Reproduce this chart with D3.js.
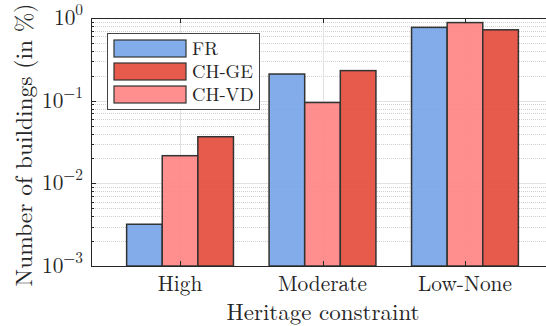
<!DOCTYPE html>
<html>
<head>
<meta charset="utf-8">
<script src="https://cdn.jsdelivr.net/npm/d3@7"></script>
<style>
  html, body { margin: 0; padding: 0; background: #fff; overflow: hidden; }
  svg { display: block; }
</style>
</head>
<body>
<svg id="chart" width="546" height="326"></svg>
<script>
// Share of buildings per heritage-constraint class and region
const categories = ["High", "Moderate", "Low-None"];
const seriesNames = ["FR", "CH-VD", "CH-GE"];        // bar order inside each group
const legendOrder = ["FR", "CH-GE", "CH-VD"];        // order shown in the legend
const valuesFR   = [0.0032, 0.210, 0.77];
const valuesCHVD = [0.0216, 0.095, 0.88];
const valuesCHGE = [0.0366, 0.231, 0.72];
const yTickValues = [1e-3, 1e-2, 1e-1, 1];
const yTickExponents = ["\u22123", "\u22122", "\u22121", "0"];

const seriesValues = { "FR": valuesFR, "CH-VD": valuesCHVD, "CH-GE": valuesCHGE };
const colors = { "FR": "#79a6e8", "CH-VD": "#ff8585", "CH-GE": "#e54f3f" };
const FONT = "'Latin Modern Roman', 'CMU Serif', 'Liberation Serif', serif";
const TEXT = "#262626";

const svg = d3.select("#chart").attr("font-family", FONT);
const m = { left: 91, top: 18, right: 554, bottom: 266 };

// font size that makes a sample string span a given width
function fitSize(sample, width) {
  const t = svg.append("text").attr("font-size", 20).text(sample);
  const w = t.node().getComputedTextLength();
  t.remove();
  return 20 * width / w;
}
const tickSize = fitSize("Moderate", 89);
const xTitleSize = fitSize("Heritage constraint", 193);
const yTitleSize = fitSize("Number of buildings (in %)", 283);
const legendSize = fitSize("CH-GE", 61);

// Group positions on an index axis (groups at 0,1,2 with 0.625 margin each side)
const x = d3.scaleLinear().domain([-0.625, categories.length - 0.375]).range([m.left, m.right]);
const y = d3.scaleLog().domain([1e-3, 1]).range([m.bottom, m.top]);
const barW = 0.25;

const plot = svg.append("g");

// minor grid (2..9 of each decade), dotted
const minor = [];
for (let e = -3; e < 0; e++) for (let k = 2; k <= 9; k++) minor.push(k * Math.pow(10, e));
plot.selectAll(".gminor").data(minor).enter().append("line")
  .attr("x1", m.left).attr("x2", m.right)
  .attr("y1", d => Math.round(y(d)) + 0.5).attr("y2", d => Math.round(y(d)) + 0.5)
  .attr("stroke", "#cfcfcf").attr("stroke-width", 1).attr("stroke-dasharray", "1,1");

// major grid
plot.selectAll(".gmajor").data(yTickValues).enter().append("line")
  .attr("x1", m.left).attr("x2", m.right)
  .attr("y1", d => Math.round(y(d)) + 0.5).attr("y2", d => Math.round(y(d)) + 0.5)
  .attr("stroke", "#e2e2e2").attr("stroke-width", 1);

// vertical grid at group centres
plot.selectAll(".gx").data(categories).enter().append("line")
  .attr("x1", (d, i) => Math.round(x(i)) + 0.5).attr("x2", (d, i) => Math.round(x(i)) + 0.5)
  .attr("y1", m.top).attr("y2", m.bottom)
  .attr("stroke", "#e2e2e2").attr("stroke-width", 1);

// bars
const bars = [];
categories.forEach((c, i) => {
  seriesNames.forEach((s, j) => {
    bars.push({ i, s, j, v: seriesValues[s][i] });
  });
});
plot.selectAll(".bar").data(bars).enter().append("rect")
  .attr("x", d => x(d.i + (d.j - 1.5) * barW))
  .attr("width", d => x(barW) - x(0))
  .attr("y", d => y(d.v))
  .attr("height", d => y(1e-3) - y(d.v))
  .attr("fill", d => colors[d.s])
  .attr("fill-opacity", 0.93)
  .attr("stroke", "#333")
  .attr("stroke-width", 1.5);

// axes frame (left, top, bottom)
const axisColor = "#262626";
svg.append("line").attr("x1", m.left + 0.5).attr("x2", m.left + 0.5)
  .attr("y1", m.top).attr("y2", m.bottom + 1).attr("stroke", axisColor).attr("stroke-width", 1);
svg.append("line").attr("x1", m.left).attr("x2", m.right)
  .attr("y1", m.top + 0.5).attr("y2", m.top + 0.5).attr("stroke", axisColor).attr("stroke-width", 1);
svg.append("line").attr("x1", m.left).attr("x2", m.right)
  .attr("y1", m.bottom + 0.5).attr("y2", m.bottom + 0.5).attr("stroke", axisColor).attr("stroke-width", 1);

// inward ticks on the left axis
svg.selectAll(".tmaj").data(yTickValues).enter().append("line")
  .attr("x1", m.left).attr("x2", m.left + 5)
  .attr("y1", d => Math.round(y(d)) + 0.5).attr("y2", d => Math.round(y(d)) + 0.5)
  .attr("stroke", axisColor);
svg.selectAll(".tmin").data(minor).enter().append("line")
  .attr("x1", m.left).attr("x2", m.left + 3)
  .attr("y1", d => Math.round(y(d)) + 0.5).attr("y2", d => Math.round(y(d)) + 0.5)
  .attr("stroke", axisColor);
// inward ticks on top and bottom at group centres
categories.forEach((c, i) => {
  const xx = Math.round(x(i)) + 0.5;
  svg.append("line").attr("x1", xx).attr("x2", xx).attr("y1", m.top).attr("y2", m.top + 5).attr("stroke", axisColor);
  svg.append("line").attr("x1", xx).attr("x2", xx).attr("y1", m.bottom).attr("y2", m.bottom - 5).attr("stroke", axisColor);
});

// y tick labels 10^k
yTickValues.forEach((v, k) => {
  const t = svg.append("text")
    .attr("x", 83).attr("y", y(v) + 7)
    .attr("text-anchor", "end")
    .attr("fill", TEXT)
    .attr("font-size", tickSize);
  t.append("tspan").text("10");
  t.append("tspan").attr("dy", -10).attr("font-size", tickSize * 0.72).text(yTickExponents[k]);
});

// x tick labels
svg.selectAll(".xl").data(categories).enter().append("text")
  .attr("x", (d, i) => x(i)).attr("y", 291)
  .attr("text-anchor", "middle")
  .attr("fill", TEXT)
  .attr("font-size", tickSize)
  .text(d => d);

// axis titles
svg.append("text").attr("x", 323).attr("y", 320)
  .attr("text-anchor", "middle").attr("font-size", xTitleSize).attr("fill", TEXT)
  .text("Heritage constraint");
svg.append("text")
  .attr("transform", "translate(32,145) rotate(-90)")
  .attr("text-anchor", "middle").attr("font-size", yTitleSize).attr("fill", TEXT)
  .text("Number of buildings (in %)");

// legend
const lg = svg.append("g");
lg.append("rect").attr("x", 107.5).attr("y", 33.5).attr("width", 152).attr("height", 76)
  .attr("fill", "#fff").attr("stroke", "#444").attr("stroke-width", 1);
legendOrder.forEach((s, k) => {
  const yy = 40 + k * 23;
  lg.append("rect").attr("x", 114).attr("y", yy).attr("width", 72).attr("height", 17)
    .attr("fill", colors[s]).attr("fill-opacity", 0.93).attr("stroke", "#333").attr("stroke-width", 1.2);
  lg.append("text").attr("x", 192).attr("y", yy + 15)
    .attr("font-size", legendSize).attr("fill", TEXT).text(s);
});
</script>
</body>
</html>
